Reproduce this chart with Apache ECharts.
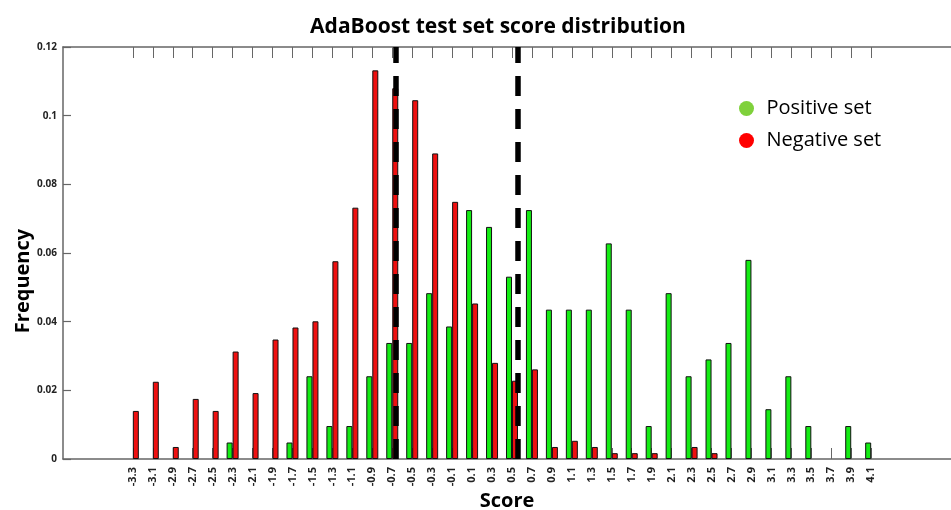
<!DOCTYPE html>
<html>
<head>
<meta charset="utf-8">
<script src="https://cdn.jsdelivr.net/npm/echarts@6/dist/echarts.min.js"></script>
<style>
  html, body { margin: 0; padding: 0; background: #fff; }
  #chart { width: 951px; height: 510px; }
</style>
</head>
<body>
<div id="chart"></div>
<script>
// score bins (x axis ticks)
const scores = [-3.3, -3.1, -2.9, -2.7, -2.5, -2.3, -2.1, -1.9, -1.7, -1.5, -1.3, -1.1, -0.9, -0.7, -0.5, -0.3, -0.1,
  0.1, 0.3, 0.5, 0.7, 0.9, 1.1, 1.3, 1.5, 1.7, 1.9, 2.1, 2.3, 2.5, 2.7, 2.9, 3.1, 3.3, 3.5, 3.7, 3.9, 4.1]

// frequencies
const positiveSet = [0, 0, 0, 0, 0, 0.0048, 0, 0, 0.0048, 0.0241, 0.0096, 0.0096, 0.0241, 0.0338, 0.0338, 0.0483, 0.0386,
  0.0725, 0.0676, 0.0531, 0.0725, 0.0435, 0.0435, 0.0435, 0.0628, 0.0435, 0.0096, 0.0483, 0.0241, 0.029, 0.0338, 0.058,
  0.0145, 0.0241, 0.0096, 0, 0.0096, 0.0048]
const negativeSet = [0.014, 0.0225, 0.0035, 0.0175, 0.014, 0.0313, 0.0192, 0.0348, 0.0383, 0.0401, 0.0576, 0.0732, 0.1132,
  0.108, 0.1045, 0.089, 0.0749, 0.0453, 0.028, 0.0228, 0.0261, 0.0035, 0.0053, 0.0035, 0.0017, 0.0017, 0.0017, 0,
  0.0035, 0.0017, 0, 0, 0, 0, 0, 0, 0, 0]

// dashed threshold lines
const thresholds = [-0.628, 0.594]

const yTicks = [0, 0.02, 0.04, 0.06, 0.08, 0.1, 0.12]

const chart = echarts.init(document.getElementById('chart'))

const fontFamily = 'Open Sans'
const axisColor = '#666'

const toPairs = arr => arr.map((v, i) => (v > 0 ? [scores[i], v] : null)).filter(Boolean)

chart.setOption({
  animation: false,
  backgroundColor: '#fff',
  textStyle: { fontFamily: fontFamily },
  title: {
    text: 'AdaBoost test set score distribution',
    left: 493,
    top: 12,
    textAlign: 'center',
    textStyle: { fontFamily: fontFamily, fontSize: 21, fontWeight: 'bold', color: '#000' }
  },
  legend: {
    orient: 'vertical',
    left: 734,
    top: 93,
    icon: 'circle',
    itemWidth: 30,
    itemHeight: 15,
    itemGap: 11,
    textStyle: { fontFamily: fontFamily, fontSize: 20, color: '#000', lineHeight: 21 },
    data: [
      { name: 'Positive set', itemStyle: { color: '#7fd13b', borderWidth: 0 } },
      { name: 'Negative set', itemStyle: { color: '#ff0000', borderWidth: 0 } }
    ]
  },
  grid: { left: 63, right: 0, top: 47, bottom: 51, outerBoundsMode: 'none' },
  xAxis: [
    {
      type: 'value',
      position: 'bottom',
      min: -4,
      max: 4.9,
      name: 'Score',
      nameLocation: 'middle',
      nameGap: 32,
      nameMoveOverlap: false,
      nameTextStyle: { fontFamily: fontFamily, fontSize: 20, fontWeight: 'bold', color: '#000' },
      axisLine: { show: true, onZero: false, lineStyle: { color: axisColor, width: 1.5 } },
      axisTick: { show: true, inside: true, length: 11, customValues: scores, lineStyle: { color: axisColor } },
      axisLabel: {
        customValues: scores,
        rotate: 90,
        margin: 8,
        fontSize: 11,
        fontWeight: 'bold',
        color: '#222',
        formatter: v => Number(v).toFixed(1)
      },
      splitLine: { show: false }
    },
    {
      type: 'value',
      position: 'top',
      min: -4,
      max: 4.9,
      axisLine: { show: true, onZero: false, lineStyle: { color: axisColor, width: 1.5 } },
      axisTick: { show: true, inside: true, length: 11, customValues: scores, lineStyle: { color: axisColor } },
      axisLabel: { show: false },
      splitLine: { show: false }
    }
  ],
  yAxis: {
    type: 'value',
    position: 'left',
    min: 0,
    max: 0.12,
    interval: 0.02,
    name: 'Frequency',
    nameLocation: 'middle',
    nameGap: 30,
    nameMoveOverlap: false,
    nameTextStyle: { fontFamily: fontFamily, fontSize: 20, fontWeight: 'bold', color: '#000', padding: [0, 56, 0, 0] },
    axisLine: { show: true, onZero: false, lineStyle: { color: axisColor, width: 1.5 } },
    axisTick: { show: true, inside: true, length: 8, customValues: yTicks, lineStyle: { color: axisColor, width: 1.2 } },
    axisLabel: { margin: 6, fontSize: 10, fontWeight: 'bold', color: '#222' },
    splitLine: { show: false }
  },
  series: [
    {
      name: 'Positive set',
      type: 'bar',
      barWidth: 6,
      barGap: '0%',
      itemStyle: { color: '#14ec14', borderColor: '#111', borderWidth: 1 },
      data: toPairs(positiveSet),
      markLine: {
        silent: true,
        symbol: ['none', 'none'],
        label: { show: false },
        lineStyle: { color: '#000', width: 5.5, type: [20, 13] },
        data: thresholds.map(t => ({ xAxis: t }))
      }
    },
    {
      name: 'Negative set',
      type: 'bar',
      barWidth: 6,
      barGap: '0%',
      itemStyle: { color: '#ee1010', borderColor: '#111', borderWidth: 1 },
      data: toPairs(negativeSet)
    }
  ]
})
</script>
</body>
</html>
